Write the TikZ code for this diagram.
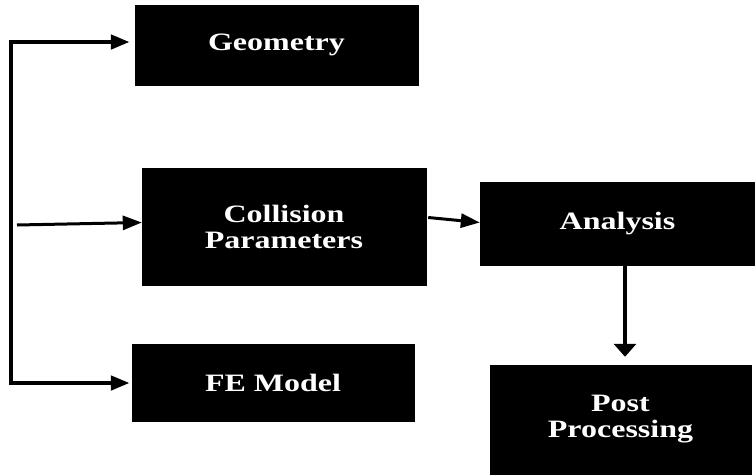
\documentclass[tikz,border=0pt]{standalone}
\usepackage{fontspec}
\newfontfamily\boxfont[FakeStretch=1.28]{Liberation Serif}
\usetikzlibrary{positioning}
\usetikzlibrary{arrows.meta}
\usetikzlibrary{calc}
\tikzset{block/.style={rectangle,fill=black,draw=black,text=white,inner sep=0pt,
align=center, font=\boxfont\bfseries\fontsize{25}{26}\selectfont},
link/.style={color=black, line width=3pt},
spine/.style={link, line width=4.5pt},
>={Triangle[length=19pt,width=14pt]}}

\begin{document}
\begin{tikzpicture}[x=1pt,y=-1pt]
  \useasboundingbox (0,0) rectangle (755,474);
  \node (geo) [block,minimum width=283pt,minimum height=80pt] at (276.5,45) {Geometry};
  \node (coll) [block,minimum width=284pt,minimum height=117pt] at (284,226.5) {Collision\\Parameters};
  \node (fem) [block,minimum width=282pt,minimum height=77pt] at (273,382.5) {FE Model};
  \node (ana) [block,minimum width=275pt,minimum height=83pt] at (617.5,223.5) {Analysis};
  \node (post) [block,minimum width=261pt,minimum height=109pt] at (620.5,419.5) {Post\\Processing};
  \coordinate (top) at (11,42);
  \coordinate (bot) at (11,383);
  \coordinate (in) at (17,225);
  \draw [spine] ([yshift=2.25pt]top) -- ([yshift=-2.25pt]bot);
  \draw [spine,->,shorten >=5pt] (top) -- (top -| geo.west);
  \draw [spine,->,shorten >=2pt] (bot) -- (bot -| fem.west);
  \draw [link,->] (in) -- ([yshift=4pt]coll.west);
  \draw [link,->] ([yshift=9pt,xshift=2pt]coll.east) -- ([yshift=1pt]ana.west);
  \draw [link,line width=4pt,->,>={Triangle[length=13pt,width=22pt]},shorten >=8pt] ([xshift=7.5pt]ana.south) -- ([xshift=7.5pt]ana.south |- post.north);
\end{tikzpicture}
\end{document}
